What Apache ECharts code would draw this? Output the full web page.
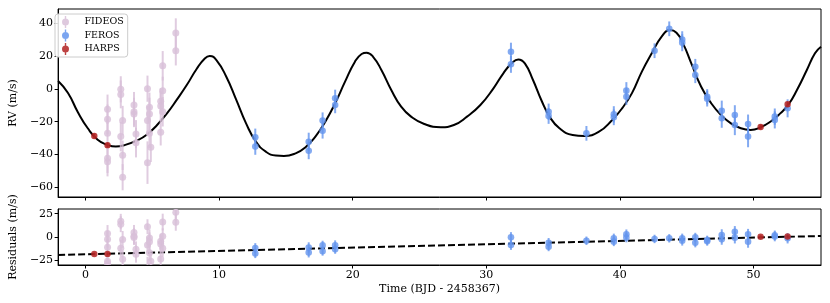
<!DOCTYPE html>
<html>
<head>
<meta charset="utf-8">
<script src="https://cdn.jsdelivr.net/npm/echarts@6/dist/echarts.min.js"></script>
<style>
html,body{margin:0;padding:0;background:#fff;}
#chart{width:830px;height:303px;}
</style>
</head>
<body>
<div id="chart"></div>
<script>
// ---------- data ----------
const xTicks = [0, 10, 20, 30, 40, 50];
const rvTicks = [-60, -40, -20, 0, 20, 40];
const resTicks = [-25, 0, 25];

const fideosT   = [1.65,1.65,1.65,1.65,1.65, 2.64,2.64,2.64, 2.78,2.78,2.78, 3.63,3.63,3.63, 3.78,3.78, 4.64,4.64,4.64, 4.79,4.79,4.79, 4.89, 5.63,5.63,5.63, 5.78,5.78,5.78, 6.76,6.76];
const fideosRV  = [-12.4,-18.5,-27.1,-42.3,-44.4, -0.2,-3.3,-29.1, -19.3,-40.5,-53.9, -9.8,-13.9,-15.3, -27.5,-32.8, 0.2,-19.3,-45.0, -11.2,-15.3,-27.1, -35.6, -7.5,-10.4,-26.5, 14.2,-1.0,-13.9, 34.2,23.4];
const fideosRes = [3.8,-2.3,-10.9,-26.1,-28.2, 16.8,13.7,-12.1, -2.6,-23.8,-37.2, 4.9,0.8,-0.6, -13.2,-18.5, 11.0,-8.5,-34.2, -1.1,-5.2,-17.0, -26.1, -4.5,-7.4,-23.5, 16.0,0.8,-12.1, 26.5,15.7];
const fideosErr = [9,9,8.5,9,9, 8,8.5,9, 9,9,8, 8,8.5,8, 8.5,9, 8,9,13, 9,10,9, 9, 8,9,8, 9,8.5,9, 9,9];

const ferosT   = [12.71,12.71,16.71,16.71,17.75,17.75,18.69,18.69,31.85,31.85,34.67,34.67,37.5,39.55,39.55,40.49,40.49,42.6,43.7,44.67,44.67,45.65,45.65,46.54,46.54,47.63,47.63,48.61,48.61,49.6,49.6,51.6,51.6,52.56];
const ferosRV  = [-29.5,-35.2,-32.2,-37.7,-19.3,-25.5,-5.7,-9.8,22.8,15.1,-13.9,-16.5,-27.1,-15.5,-17.3,-1.0,-4.7,23.4,36.8,30.3,28.3,13.6,8.6,-4.7,-5.9,-13.3,-17.9,-15.9,-22.0,-21.4,-29.1,-16.9,-18.9,-11.8];
const ferosRes = [-11.9,-17.6,-11.2,-16.7,-9.0,-15.2,-8.9,-13.0,-0.3,-8.6,-6.1,-10.4,-4.0,-1.4,-5.0,2.9,-0.7,-2.1,-1.4,-1.4,-4.0,-0.3,-6.1,-3.2,-4.5,2.1,-2.5,5.7,-0.7,2.9,-5.0,1.9,0.6,-1.4];
const ferosErr = [5.3,5.0,5.5,5.2,5.0,4.8,5.3,5.0,5.5,5.2,5.0,4.8,4.5,5.0,4.8,5.2,5.0,4.5,4.5,5.0,5.2,4.8,5.0,4.6,4.8,6.2,5.8,6.0,6.2,5.8,6.5,5.0,5.2,5.5];

const harpsT   = [0.66, 1.65, 50.54, 52.56];
const harpsRV  = [-28.7, -34.3, -23.2, -9.3];
const harpsRes = [-18.2, -18.1, 0.3, 0.5];
const harpsErr = [1.5, 1.5, 1.5, 1.5];

const modelT = [-2.05,-1.31,-0.57,0.17,0.91,1.65,2.27,2.89,3.87,4.61,5.36,6.1,6.84,7.58,8.33,8.93,9.3,9.8,10.54,11.28,12.02,12.76,13.5,14.25,14.86,15.73,16.47,17.21,17.95,18.69,19.43,20.17,20.67,21.04,21.53,22.15,22.89,23.63,24.37,25.36,26.6,27.58,28.56,29.56,30.54,31.28,31.9,32.4,32.89,33.5,34.12,34.74,35.48,36.47,37.33,38.44,39.43,40.17,40.91,41.65,42.39,43.13,43.75,44.24,44.73,45.35,46.09,46.84,47.58,48.32,49.06,49.8,50.54,51.27,52.01,52.63,53.26,54.0,54.61,55.06];
const modelV = [4.9,-2.4,-14.2,-24.0,-31.0,-34.2,-35.2,-34.4,-31.4,-27.8,-22.0,-14.9,-6.5,2.4,12.4,18.7,20.2,17.7,7.5,-6.5,-21.0,-32.2,-38.3,-40.7,-40.9,-39.3,-35.6,-29.1,-20.0,-8.7,4.5,16.7,21.4,22.2,19.7,11.6,-0.6,-10.8,-16.9,-21.4,-23.4,-22.0,-16.9,-9.8,0.4,9.6,15.7,18.1,15.7,5.5,-6.7,-16.9,-24.0,-28.1,-28.7,-26.1,-18.9,-11.8,-2.5,10.6,21.8,32.0,36.0,34.4,27.9,15.7,1.4,-8.7,-15.9,-21.0,-24.0,-25.0,-23.4,-20.0,-14.9,-9.4,-0.6,11.6,21.8,25.8];

const trendT = [-2.05, 55.06];
const trendV = [-19.3, 1.1];

// ---------- styling ----------
const FONT = 'DejaVu Serif';
const C_FID = '#d8bfd8', C_FER = '#6495ed', C_HAR = '#b22222';
const minusFmt = v => (v < 0 ? '\u2212' + Math.abs(v) : String(v));

function zip3(a, b, c) { return a.map((x, i) => [x, b[i], c[i]]); }
function zip2(a, b) { return a.map((x, i) => [x, b[i]]); }

function errRender(color, r, op) {
  return function (params, api) {
    const t = api.value(0), v = api.value(1), e = api.value(2);
    const p = api.coord([t, v]);
    const lo = api.coord([t, v - e]);
    const hi = api.coord([t, v + e]);
    return {
      type: 'group',
      children: [
        { type: 'line', shape: { x1: p[0], y1: lo[1], x2: p[0], y2: hi[1] },
          style: { stroke: color, lineWidth: 2, opacity: op } },
        { type: 'circle', shape: { cx: p[0], cy: p[1], r: r },
          style: { fill: color, opacity: op } }
      ]
    };
  };
}

function errSeries(name, color, r, op, data, gi) {
  return {
    type: 'custom', name: name, xAxisIndex: gi, yAxisIndex: gi,
    clip: true, z: 3,
    itemStyle: { color: color },
    renderItem: errRender(color, r, op),
    encode: { x: 0, y: 1 },
    data: data
  };
}

const ICON = 'path://M5.3,0 h1.4 v12 h-1.4 z M2.5,6 a3.5,3.5 0 1 1 7,0 a3.5,3.5 0 1 1 -7,0 z';

function xAxisBase(gi) {
  return {
    type: 'value', gridIndex: gi, min: -2.05, max: 55.06,
    axisLine: { show: true, onZero: false, lineStyle: { color: '#000', width: 1 } },
    axisTick: { show: true, inside: false, length: 3.5, customValues: xTicks, lineStyle: { color: '#000' } },
    splitLine: { show: false }
  };
}

const option = {
  animation: false,
  backgroundColor: '#fff',
  textStyle: { fontFamily: FONT },
  grid: [
    { left: 50, width: 771, top: 9, height: 188, show: true, borderColor: '#000', borderWidth: 1 },
    { left: 50, width: 771, top: 209, height: 56, show: true, borderColor: '#000', borderWidth: 1 }
  ],
  legend: {
    left: 55, top: 14, orient: 'vertical',
    padding: [2, 4, 2, 7], itemGap: 1.5,
    itemWidth: 12, itemHeight: 12,
    backgroundColor: 'rgba(255,255,255,0.85)', borderColor: '#cccccc', borderWidth: 1, borderRadius: 3,
    textStyle: { fontFamily: FONT, fontSize: 9.5, color: '#000', padding: [0, 0, 0, 8] },
    data: [
      { name: 'FIDEOS', icon: ICON, itemStyle: { color: C_FID, opacity: 0.85 } },
      { name: 'FEROS', icon: ICON, itemStyle: { color: C_FER, opacity: 0.85 } },
      { name: 'HARPS', icon: ICON, itemStyle: { color: C_HAR, opacity: 0.85 } }
    ]
  },
  xAxis: [
    Object.assign(xAxisBase(0), { axisLabel: { show: false } }),
    Object.assign(xAxisBase(1), {
      axisLabel: { show: true, customValues: xTicks, margin: 5, fontFamily: FONT, fontSize: 11, color: '#000' },
      name: 'Time (BJD - 2458367)', nameLocation: 'middle', nameGap: 19,
      nameTextStyle: { fontFamily: FONT, fontSize: 11, color: '#000' }
    })
  ],
  yAxis: [
    {
      type: 'value', gridIndex: 0, min: -66, max: 48.9,
      axisLine: { show: true, onZero: false, lineStyle: { color: '#000', width: 1 } },
      axisTick: { show: true, inside: false, length: 3.5, customValues: rvTicks, lineStyle: { color: '#000' } },
      axisLabel: { show: true, customValues: rvTicks, formatter: minusFmt, margin: 5, fontFamily: FONT, fontSize: 11, color: '#000' },
      splitLine: { show: false },
      name: 'RV (m/s)', nameLocation: 'middle', nameGap: 32,
      nameTextStyle: { fontFamily: FONT, fontSize: 11, color: '#000' }
    },
    {
      type: 'value', gridIndex: 1, min: -30, max: 30,
      axisLine: { show: true, onZero: false, lineStyle: { color: '#000', width: 1 } },
      axisTick: { show: true, inside: false, length: 3.5, customValues: resTicks, lineStyle: { color: '#000' } },
      axisLabel: { show: true, customValues: resTicks, formatter: minusFmt, margin: 5, fontFamily: FONT, fontSize: 11, color: '#000' },
      splitLine: { show: false },
      name: 'Residuals (m/s)', nameLocation: 'middle', nameGap: 32,
      nameTextStyle: { fontFamily: FONT, fontSize: 11, color: '#000' }
    }
  ],
  series: [
    {
      type: 'line', name: 'model', xAxisIndex: 0, yAxisIndex: 0,
      data: zip2(modelT, modelV), showSymbol: false, symbol: 'none',
      smooth: 0.5, z: 2, clip: true,
      lineStyle: { color: '#000', width: 2 }
    },
    {
      type: 'line', name: 'trend', xAxisIndex: 1, yAxisIndex: 1,
      data: zip2(trendT, trendV), showSymbol: false, symbol: 'none', z: 2,
      lineStyle: { color: '#000', width: 2, type: [7, 3] }
    },
    errSeries('FIDEOS', C_FID, 3.5, 0.8, zip3(fideosT, fideosRV, fideosErr), 0),
    errSeries('FEROS', C_FER, 3.3, 0.8, zip3(ferosT, ferosRV, ferosErr), 0),
    errSeries('HARPS', C_HAR, 3.2, 0.85, zip3(harpsT, harpsRV, harpsErr), 0),
    errSeries('FIDEOS', C_FID, 3.5, 0.8, zip3(fideosT, fideosRes, fideosErr), 1),
    errSeries('FEROS', C_FER, 3.3, 0.8, zip3(ferosT, ferosRes, ferosErr), 1),
    errSeries('HARPS', C_HAR, 3.2, 0.85, zip3(harpsT, harpsRes, harpsErr), 1)
  ]
};

const chart = echarts.init(document.getElementById('chart'), null, { renderer: 'canvas' });
chart.setOption(option);
</script>
</body>
</html>
